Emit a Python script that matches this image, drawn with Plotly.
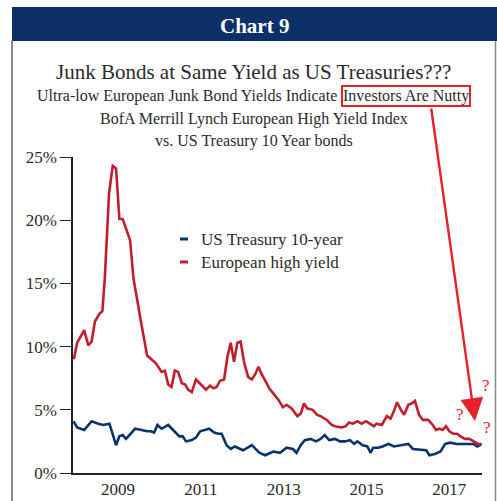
import plotly.graph_objects as go

# ---- data (decimal year, yield %) ----
hy_years = [2007.93, 2008.01, 2008.18, 2008.28, 2008.36, 2008.44, 2008.55, 2008.62, 2008.68, 2008.78,
            2008.87, 2008.95, 2009.03, 2009.11, 2009.29, 2009.37, 2009.55, 2009.70, 2009.91, 2010.05,
            2010.13, 2010.21, 2010.29, 2010.37, 2010.45, 2010.54, 2010.62, 2010.69, 2010.78, 2010.88,
            2011.00, 2011.12, 2011.22, 2011.30, 2011.38, 2011.46, 2011.56, 2011.64, 2011.72, 2011.80,
            2011.88, 2011.96, 2012.04, 2012.14, 2012.23, 2012.31, 2012.39, 2012.47, 2012.57, 2012.65,
            2012.77, 2012.87, 2012.98, 2013.07, 2013.19, 2013.33, 2013.41, 2013.49, 2013.57, 2013.70,
            2013.81, 2013.89, 2014.04, 2014.16, 2014.24, 2014.40, 2014.50, 2014.58, 2014.67, 2014.78,
            2014.88, 2014.99, 2015.08, 2015.18, 2015.24, 2015.37, 2015.49, 2015.58, 2015.65, 2015.74,
            2015.83, 2015.91, 2016.01, 2016.09, 2016.17, 2016.27, 2016.36, 2016.49, 2016.60, 2016.68,
            2016.76, 2016.84, 2016.92, 2017.00, 2017.10, 2017.19, 2017.27, 2017.38, 2017.48, 2017.58,
            2017.70, 2017.78]
hy_values = [9.0, 10.3, 11.3, 10.1, 10.4, 12.0, 12.6, 12.8, 15.5, 22.1,
             24.3, 24.1, 20.1, 20.1, 18.4, 15.4, 12.0, 9.3, 8.7, 8.0,
             8.1, 7.0, 6.8, 8.1, 8.0, 7.1, 7.0, 6.6, 6.4, 7.4,
             7.0, 6.6, 6.9, 6.7, 6.8, 7.3, 7.4, 9.2, 10.3, 8.8,
             10.3, 10.4, 8.8, 7.6, 7.4, 7.8, 8.4, 7.8, 7.2, 6.7,
             6.2, 5.8, 5.2, 5.4, 5.1, 4.5, 4.7, 5.5, 5.1, 5.0,
             4.6, 4.5, 4.2, 3.8, 3.7, 3.6, 3.7, 4.0, 3.9, 4.1,
             3.9, 4.1, 3.9, 3.7, 3.9, 3.8, 4.5, 4.3, 4.8, 5.6,
             5.0, 4.6, 5.4, 5.5, 5.7, 4.6, 4.2, 4.2, 3.8, 3.4,
             3.5, 3.4, 3.7, 3.3, 3.1, 3.1, 2.9, 2.7, 2.7, 2.5,
             2.3, 2.3]

ust_years = [2007.92, 2008.01, 2008.18, 2008.36, 2008.52, 2008.64, 2008.79, 2008.95, 2009.03, 2009.11,
             2009.19, 2009.29, 2009.41, 2009.57, 2009.70, 2009.79, 2009.87, 2009.95, 2010.05, 2010.21,
             2010.33, 2010.48, 2010.56, 2010.64, 2010.78, 2010.88, 2010.98, 2011.20, 2011.32, 2011.42,
             2011.50, 2011.62, 2011.72, 2011.82, 2012.02, 2012.23, 2012.41, 2012.55, 2012.75, 2012.91,
             2013.07, 2013.22, 2013.31, 2013.41, 2013.51, 2013.65, 2013.78, 2013.89, 2013.99, 2014.10,
             2014.24, 2014.36, 2014.48, 2014.60, 2014.70, 2014.78, 2014.91, 2015.02, 2015.10, 2015.16,
             2015.28, 2015.39, 2015.53, 2015.66, 2015.83, 2016.01, 2016.12, 2016.33, 2016.44, 2016.52,
             2016.65, 2016.79, 2016.90, 2017.02, 2017.18, 2017.34, 2017.46, 2017.58, 2017.68, 2017.78]
ust_values = [4.1, 3.6, 3.4, 4.1, 3.9, 3.8, 3.9, 2.2, 2.9, 3.0,
              2.7, 3.1, 3.5, 3.4, 3.3, 3.3, 3.2, 3.8, 3.5, 3.8,
              3.4, 2.9, 2.9, 2.5, 2.6, 2.8, 3.3, 3.5, 3.2, 3.1,
              3.1, 2.2, 1.9, 2.1, 1.8, 2.2, 1.6, 1.4, 1.7, 1.6,
              2.0, 1.9, 1.6, 2.2, 2.6, 2.7, 2.5, 2.7, 3.0, 2.6,
              2.7, 2.5, 2.5, 2.6, 2.3, 2.5, 2.2, 2.1, 1.6, 2.0,
              2.0, 2.1, 2.3, 2.1, 2.2, 2.3, 1.9, 1.8, 1.8, 1.4,
              1.5, 1.7, 2.3, 2.4, 2.3, 2.3, 2.3, 2.3, 2.1, 2.3]

series_names = ["US Treasury 10-year", "European high yield"]
x_tick_years = [2009, 2011, 2013, 2015, 2017]
x_tick_labels = ["2009", "2011", "2013", "2015", "2017"]
y_ticks = [0, 5, 10, 15, 20, 25]
y_tick_labels = ["0%", "5%", "10%", "15%", "20%", "25%"]

header_text = "Chart 9"
title_text = "Junk Bonds at Same Yield as US Treasuries???"
sub1a = "Ultra-low European Junk Bond Yields Indicate"
sub1b = "Investors Are Nutty"
sub2 = "BofA Merrill Lynch European High Yield Index"
sub3 = "vs. US Treasury 10 Year bonds"

# ---- styling ----
NAVY = "#0b3270"
RED = "#c41e2e"
ARROW_RED = "#e8202a"
TEXT = "#2b2b2b"
FONT = "Liberation Serif, DejaVu Serif, serif"

W, H = 497, 501
L, R, T, B = 73, 15, 157, 28
PW, PH = W - L - R, H - T - B


def px(x):
    return (x - L) / PW


def py(y):
    return (H - B - y) / PH


fig = go.Figure()
fig.add_trace(go.Scatter(x=ust_years, y=ust_values, mode="lines", name=series_names[0],
                         line=dict(color=NAVY, width=2.6), showlegend=False))
fig.add_trace(go.Scatter(x=hy_years, y=hy_values, mode="lines", name=series_names[1],
                         line=dict(color=RED, width=2.6), showlegend=False))

shapes = [
    # header band
    dict(type="rect", xref="paper", yref="paper", x0=px(12), x1=px(497), y0=py(41), y1=py(7),
         fillcolor="#0b2f66", line=dict(width=0), layer="below"),
    # box side borders
    dict(type="line", xref="paper", yref="paper", x0=px(12), x1=px(12), y0=py(41), y1=py(501),
         line=dict(color="#8a8a8a", width=2)),
    dict(type="line", xref="paper", yref="paper", x0=px(495.5), x1=px(495.5), y0=py(41), y1=py(501),
         line=dict(color="#8a8a8a", width=1.5)),
    # legend keys
    dict(type="line", xref="paper", yref="paper", x0=px(180), x1=px(188), y0=py(239), y1=py(239),
         line=dict(color=NAVY, width=3)),
    dict(type="line", xref="paper", yref="paper", x0=px(180), x1=px(188), y0=py(262), y1=py(262),
         line=dict(color=RED, width=3)),
]


def qmark(x, y):
    return dict(text="?", x=px(x), y=py(y), xref="paper", yref="paper", showarrow=False,
                xanchor="center", yanchor="middle", font=dict(family=FONT, size=17, color=ARROW_RED))


annotations = [
    dict(text="<b>" + header_text + "</b>", x=px(254), y=py(26), xref="paper", yref="paper",
         showarrow=False, font=dict(family=FONT, size=21, color="white"), xanchor="center", yanchor="middle"),
    dict(text=title_text, x=px(253), y=py(72), xref="paper", yref="paper", showarrow=False,
         font=dict(family=FONT, size=21, color=TEXT), xanchor="center", yanchor="middle"),
    dict(text=sub1a, x=px(339), y=py(96), xref="paper", yref="paper", showarrow=False,
         font=dict(family=FONT, size=16, color=TEXT), xanchor="right", yanchor="middle"),
    dict(text=sub1b, x=px(341), y=py(96), xref="paper", yref="paper", showarrow=False,
         font=dict(family=FONT, size=16, color=TEXT), xanchor="left", yanchor="middle",
         bordercolor="#e5222b", borderwidth=2, borderpad=0),
    dict(text=sub2, x=px(254), y=py(119), xref="paper", yref="paper", showarrow=False,
         font=dict(family=FONT, size=16, color=TEXT), xanchor="center", yanchor="middle"),
    dict(text=sub3, x=px(254), y=py(141), xref="paper", yref="paper", showarrow=False,
         font=dict(family=FONT, size=16, color=TEXT), xanchor="center", yanchor="middle"),
    # legend text
    dict(text=series_names[0], x=px(199), y=py(239), xref="paper", yref="paper", showarrow=False,
         font=dict(family=FONT, size=17, color=TEXT), xanchor="left", yanchor="middle"),
    dict(text=series_names[1], x=px(199), y=py(262), xref="paper", yref="paper", showarrow=False,
         font=dict(family=FONT, size=17, color=TEXT), xanchor="left", yanchor="middle"),
    # arrow
    dict(text="", x=px(475), y=py(421), xref="paper", yref="paper", showarrow=True,
         ax=431 - 475, ay=107 - 421, axref="pixel", ayref="pixel",
         arrowhead=2, arrowsize=1.9, arrowwidth=2.4, arrowcolor=ARROW_RED),
    # question marks
    qmark(460, 414),
    qmark(486, 385),
    qmark(487, 427),
]

fig.update_layout(
    width=W, height=H,
    margin=dict(l=L, r=R, t=T, b=B, pad=0),
    paper_bgcolor="white", plot_bgcolor="white",
    shapes=shapes, annotations=annotations,
    showlegend=False,
    xaxis=dict(range=[2007.91, 2017.79], tickvals=x_tick_years, ticktext=x_tick_labels,
               showgrid=False, zeroline=False, showline=True, linecolor="#222", linewidth=1.5,
               ticks="", automargin=False, tickfont=dict(family=FONT, size=17, color=TEXT)),
    yaxis=dict(range=[0, 25], tickvals=y_ticks, ticktext=y_tick_labels, showgrid=False, zeroline=False,
               showline=True, linecolor="#222", linewidth=1.5, ticks="outside", ticklen=11,
               tickcolor="#222", tickwidth=1.2, automargin=False,
               tickfont=dict(family=FONT, size=17, color=TEXT)),
)

fig.write_html("out.html", config={"displayModeBar": False},
               post_script="document.body.style.margin='0';document.body.style.overflow='hidden';")
